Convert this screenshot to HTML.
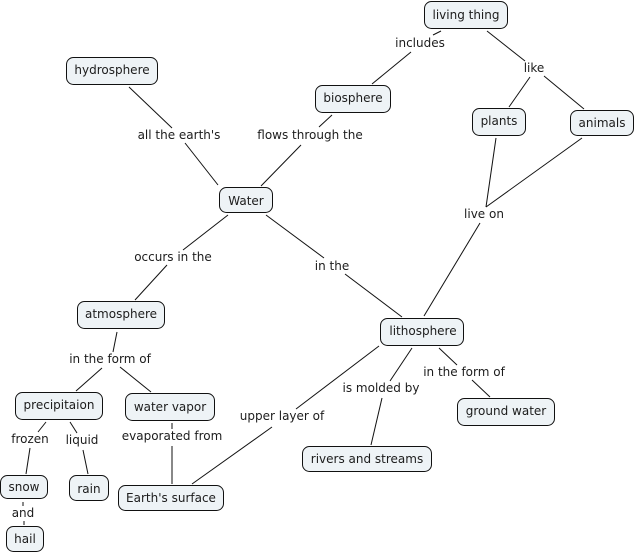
<!DOCTYPE html>
<html><head><meta charset="utf-8"><style>
html,body{margin:0;padding:0;background:#fff;width:636px;height:553px;overflow:hidden}
svg{display:block}
text{font-family:"DejaVu Sans","Liberation Sans",sans-serif;font-size:12px;fill:#1c1c1c;text-anchor:middle}
rect{fill:#eef3f6;stroke:#111;stroke-width:1}
line{stroke:#111;stroke-width:1}
</style></head><body>
<svg width="636" height="553" viewBox="0 0 636 553" xmlns="http://www.w3.org/2000/svg">
<g>
<line x1="441" y1="31" x2="433" y2="35"/>
<line x1="411" y1="52" x2="372" y2="84"/>
<line x1="487" y1="31" x2="525" y2="61"/>
<line x1="530" y1="77" x2="509" y2="107"/>
<line x1="544" y1="76" x2="584" y2="109"/>
<line x1="496" y1="138" x2="486" y2="207"/>
<line x1="582" y1="138" x2="486" y2="207"/>
<line x1="480" y1="223" x2="424" y2="316"/>
<line x1="332" y1="115" x2="319" y2="127"/>
<line x1="301" y1="145" x2="261" y2="186"/>
<line x1="129" y1="87" x2="172" y2="128"/>
<line x1="185" y1="143" x2="218" y2="185"/>
<line x1="228" y1="215" x2="183" y2="250"/>
<line x1="167" y1="265" x2="135" y2="300"/>
<line x1="266" y1="215" x2="324" y2="258"/>
<line x1="345" y1="274" x2="402" y2="317"/>
<line x1="117" y1="332" x2="113" y2="352"/>
<line x1="102" y1="368" x2="76" y2="391"/>
<line x1="120" y1="367" x2="151" y2="392"/>
<line x1="46" y1="422" x2="38" y2="432"/>
<line x1="30" y1="448" x2="26" y2="474"/>
<line x1="70" y1="422" x2="77" y2="433"/>
<line x1="83" y1="450" x2="88" y2="474"/>
<line x1="172" y1="423" x2="172" y2="429"/>
<line x1="172" y1="446" x2="172" y2="484"/>
<line x1="23" y1="502" x2="23" y2="506"/>
<line x1="24" y1="521" x2="24" y2="525"/>
<line x1="379" y1="346" x2="296" y2="409"/>
<line x1="272" y1="427" x2="192" y2="484"/>
<line x1="412" y1="348" x2="390" y2="381"/>
<line x1="382" y1="398" x2="371" y2="445"/>
<line x1="439" y1="348" x2="457" y2="365"/>
<line x1="472" y1="380" x2="490" y2="397"/>
</g>
<g>
<rect x="424.5" y="1.5" width="83" height="27" rx="7"/>
<rect x="315.5" y="85.5" width="75" height="27" rx="7"/>
<rect x="472.5" y="108.5" width="53" height="27" rx="7"/>
<rect x="570.5" y="110.5" width="63" height="25" rx="7"/>
<rect x="66.5" y="57.5" width="91" height="27" rx="7"/>
<rect x="219.5" y="187.5" width="53" height="25" rx="7"/>
<rect x="77.5" y="301.5" width="87" height="27" rx="7"/>
<rect x="380.5" y="318.5" width="83" height="27" rx="7"/>
<rect x="457.5" y="398.5" width="97" height="27" rx="7"/>
<rect x="302.5" y="446.5" width="129" height="25" rx="7"/>
<rect x="15.5" y="392.5" width="87" height="27" rx="7"/>
<rect x="125.5" y="393.5" width="89" height="27" rx="7"/>
<rect x="0.5" y="475.5" width="47" height="23" rx="7"/>
<rect x="69.5" y="475.5" width="39" height="25" rx="7"/>
<rect x="118.5" y="485.5" width="105" height="25" rx="7"/>
<rect x="6.5" y="526.5" width="37" height="25" rx="7"/>
</g>
<g>
<text x="466" y="19">living thing</text>
<text x="353" y="102">biosphere</text>
<text x="499" y="125">plants</text>
<text x="602" y="127">animals</text>
<text x="112" y="74">hydrosphere</text>
<text x="246" y="205">Water</text>
<text x="121" y="318">atmosphere</text>
<text x="423" y="335">lithosphere</text>
<text x="506" y="415">ground water</text>
<text x="367" y="463">rivers and streams</text>
<text x="59" y="409">precipitaion</text>
<text x="170" y="411">water vapor</text>
<text x="24" y="491">snow</text>
<text x="89" y="493">rain</text>
<text x="171" y="502">Earth's surface</text>
<text x="25" y="543">hail</text>
<text x="420" y="47">includes</text>
<text x="534" y="72">like</text>
<text x="310" y="139">flows through the</text>
<text x="179" y="139">all the earth's</text>
<text x="484" y="218">live on</text>
<text x="173" y="261">occurs in the</text>
<text x="332" y="270">in the</text>
<text x="110" y="363">in the form of</text>
<text x="30" y="443">frozen</text>
<text x="82" y="444">liquid</text>
<text x="172" y="440">evaporated from</text>
<text x="282" y="420">upper layer of</text>
<text x="381" y="392">is molded by</text>
<text x="464" y="376">in the form of</text>
<text x="23" y="517">and</text>
</g>
</svg>
</body></html>
